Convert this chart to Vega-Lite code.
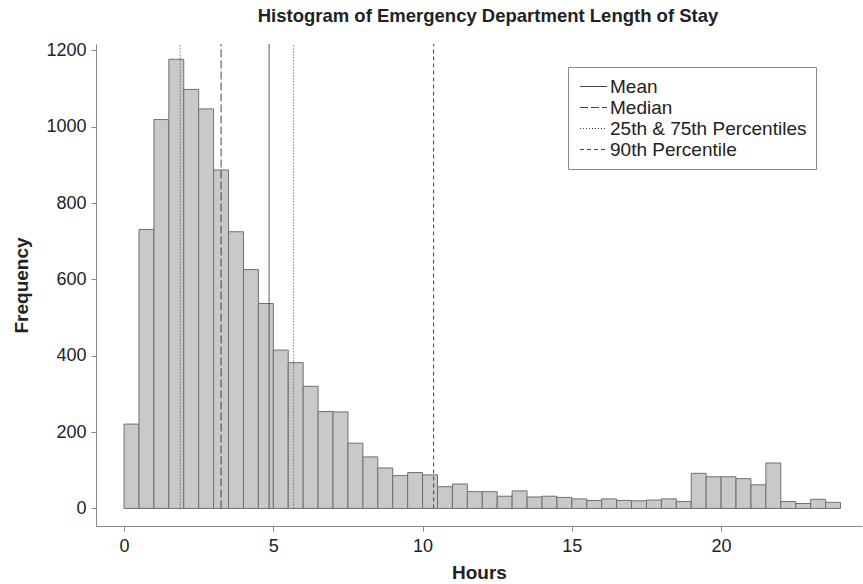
{
  "$schema": "https://vega.github.io/schema/vega-lite/v6.json",
  "width": 766,
  "height": 482,
  "autosize": {"type": "none"},
  "padding": {"left": 96, "top": 44, "right": 1, "bottom": 58},
  "background": "white",
  "config": {
    "font": "Liberation Sans",
    "view": {"stroke": null},
    "axis": {"labelColor": "#222", "titleColor": "#222", "grid": false}
  },
  "title": {
    "text": "Histogram of Emergency Department Length of Stay",
    "fontSize": 18.5,
    "fontWeight": "bold",
    "color": "#222",
    "anchor": "middle",
    "dx": 9,
    "offset": 16
  },
  "datasets": {
    "bins": [
      {"bin_start": 0, "bin_end": 0.5, "frequency": 221},
      {"bin_start": 0.5, "bin_end": 1, "frequency": 731},
      {"bin_start": 1, "bin_end": 1.5, "frequency": 1019},
      {"bin_start": 1.5, "bin_end": 2, "frequency": 1177},
      {"bin_start": 2, "bin_end": 2.5, "frequency": 1098},
      {"bin_start": 2.5, "bin_end": 3, "frequency": 1047},
      {"bin_start": 3, "bin_end": 3.5, "frequency": 887},
      {"bin_start": 3.5, "bin_end": 4, "frequency": 725},
      {"bin_start": 4, "bin_end": 4.5, "frequency": 626},
      {"bin_start": 4.5, "bin_end": 5, "frequency": 537},
      {"bin_start": 5, "bin_end": 5.5, "frequency": 415},
      {"bin_start": 5.5, "bin_end": 6, "frequency": 382},
      {"bin_start": 6, "bin_end": 6.5, "frequency": 320},
      {"bin_start": 6.5, "bin_end": 7, "frequency": 254},
      {"bin_start": 7, "bin_end": 7.5, "frequency": 253},
      {"bin_start": 7.5, "bin_end": 8, "frequency": 171},
      {"bin_start": 8, "bin_end": 8.5, "frequency": 135},
      {"bin_start": 8.5, "bin_end": 9, "frequency": 106},
      {"bin_start": 9, "bin_end": 9.5, "frequency": 86},
      {"bin_start": 9.5, "bin_end": 10, "frequency": 94},
      {"bin_start": 10, "bin_end": 10.5, "frequency": 88},
      {"bin_start": 10.5, "bin_end": 11, "frequency": 57},
      {"bin_start": 11, "bin_end": 11.5, "frequency": 64},
      {"bin_start": 11.5, "bin_end": 12, "frequency": 44},
      {"bin_start": 12, "bin_end": 12.5, "frequency": 44},
      {"bin_start": 12.5, "bin_end": 13, "frequency": 32},
      {"bin_start": 13, "bin_end": 13.5, "frequency": 46},
      {"bin_start": 13.5, "bin_end": 14, "frequency": 30},
      {"bin_start": 14, "bin_end": 14.5, "frequency": 32},
      {"bin_start": 14.5, "bin_end": 15, "frequency": 29},
      {"bin_start": 15, "bin_end": 15.5, "frequency": 25},
      {"bin_start": 15.5, "bin_end": 16, "frequency": 21},
      {"bin_start": 16, "bin_end": 16.5, "frequency": 25},
      {"bin_start": 16.5, "bin_end": 17, "frequency": 21},
      {"bin_start": 17, "bin_end": 17.5, "frequency": 20},
      {"bin_start": 17.5, "bin_end": 18, "frequency": 22},
      {"bin_start": 18, "bin_end": 18.5, "frequency": 25},
      {"bin_start": 18.5, "bin_end": 19, "frequency": 18},
      {"bin_start": 19, "bin_end": 19.5, "frequency": 92},
      {"bin_start": 19.5, "bin_end": 20, "frequency": 83},
      {"bin_start": 20, "bin_end": 20.5, "frequency": 83},
      {"bin_start": 20.5, "bin_end": 21, "frequency": 78},
      {"bin_start": 21, "bin_end": 21.5, "frequency": 62},
      {"bin_start": 21.5, "bin_end": 22, "frequency": 119},
      {"bin_start": 22, "bin_end": 22.5, "frequency": 18},
      {"bin_start": 22.5, "bin_end": 23, "frequency": 13},
      {"bin_start": 23, "bin_end": 23.5, "frequency": 24},
      {"bin_start": 23.5, "bin_end": 24, "frequency": 16}
    ],
    "stats": [
      {"stat": "Mean", "hours": 4.86},
      {"stat": "Median", "hours": 3.25},
      {"stat": "25th & 75th Percentiles", "hours": 1.88},
      {"stat": "25th & 75th Percentiles", "hours": 5.68},
      {"stat": "90th Percentile", "hours": 10.37}
    ]
  },
  "layer": [
    {
      "data": {"name": "bins"},
      "mark": {"type": "bar", "fill": "#c9c9cb", "stroke": "#6f6f6f", "strokeWidth": 1},
      "encoding": {
        "x": {
          "field": "bin_start",
          "type": "quantitative",
          "scale": {"domain": [-0.94, 24.72], "nice": false, "zero": false},
          "axis": {
            "title": "Hours",
            "titleFontSize": 19,
            "titleFontWeight": "bold",
            "titlePadding": 8,
            "values": [0, 5, 10, 15, 20],
            "labelFontSize": 18,
            "labelPadding": 6,
            "tickSize": 5,
            "tickColor": "#888",
            "domainColor": "#888",
            "labelFlush": false
          }
        },
        "x2": {"field": "bin_end"},
        "y": {
          "field": "frequency",
          "type": "quantitative",
          "scale": {"domain": [-46, 1217], "nice": false, "zero": false},
          "axis": {
            "title": "Frequency",
            "titleFontSize": 19,
            "titleFontWeight": "bold",
            "titlePadding": 14,
            "format": "d",
            "values": [0, 200, 400, 600, 800, 1000, 1200],
            "labelFontSize": 18,
            "labelPadding": 5,
            "tickSize": 5,
            "tickColor": "#888",
            "domainColor": "#888",
            "labelFlush": false
          }
        },
        "y2": {"datum": 0}
      }
    },
    {
      "data": {"name": "stats"},
      "mark": {"type": "rule", "color": "#444", "strokeWidth": 1},
      "encoding": {
        "x": {"field": "hours", "type": "quantitative"},
        "y": {"datum": 0},
        "y2": {"datum": 1217},
        "strokeDash": {
          "field": "stat",
          "type": "nominal",
          "scale": {
            "domain": ["Mean", "Median", "25th & 75th Percentiles", "90th Percentile"],
            "range": [[1, 0], [8, 3], [1, 2], [4, 3]]
          },
          "legend": {
            "title": null,
            "orient": "none",
            "legendX": 472,
            "legendY": 23,
            "symbolType": "M-1.35,0H1.35",
            "symbolSize": 400,
            "symbolOffset": 6,
            "symbolStrokeColor": "#444",
            "symbolStrokeWidth": 1,
            "labelFontSize": 19,
            "labelColor": "#222",
            "labelOffset": 6,
            "labelLimit": 400,
            "rowPadding": 0,
            "strokeColor": "#888",
            "padding": 9
          }
        }
      }
    },
    {
      "mark": {"type": "rule", "color": "#444", "strokeWidth": 1},
      "encoding": {
        "x": {"datum": -0.94},
        "x2": {"datum": 24.72},
        "y": {"datum": 1217}
      }
    }
  ]
}
